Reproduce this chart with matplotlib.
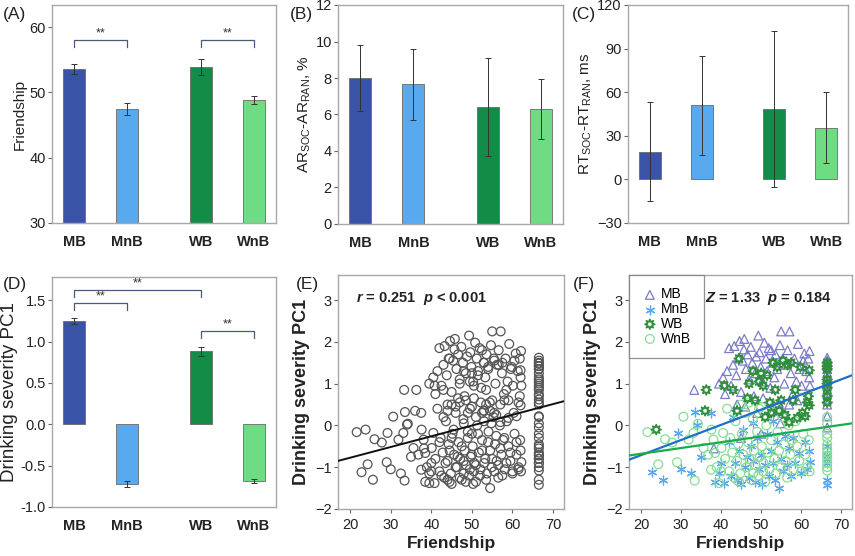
import matplotlib
matplotlib.use('Agg')
import matplotlib.pyplot as plt
import numpy as np

plt.rcParams['font.family'] = ['Liberation Sans', 'DejaVu Sans']
plt.rcParams['mathtext.fontset'] = 'custom'
plt.rcParams['mathtext.rm'] = 'Liberation Sans'
plt.rcParams['mathtext.it'] = 'Liberation Sans:italic:bold'
plt.rcParams['mathtext.bf'] = 'Liberation Sans:bold'

groups = ['MB', 'MnB', 'WB', 'WnB']
bar_colors = ['#3953a6', '#59a9ee', '#138c47', '#6fdc84']

# (A) friendship
friend_mean = [53.6, 47.5, 53.9, 48.9]
friend_err = [0.7, 0.9, 1.3, 0.6]
# (B) accuracy difference
ar_mean = [8.0, 7.65, 6.4, 6.3]
ar_err = [1.8, 1.95, 2.7, 1.65]
# (C) RT difference
rt_mean = [19, 51, 48.5, 35.5]
rt_err = [34, 34, 53.5, 24.5]
# (D) drinking severity
pc1_mean = [1.25, -0.72, 0.88, -0.69]
pc1_err = [0.04, 0.04, 0.05, 0.025]

# significance brackets: (group i, group j, height)
sig_a = [(0, 1, 58.0), (2, 3, 58.0)]
sig_d = [(0, 2, 1.62), (0, 1, 1.46), (2, 3, 1.13)]

mb_x = [33.3, 38.2, 40.5, 41.0, 42.0, 42.5, 43.0, 43.3, 43.8, 44.3, 44.6, 45.0, 45.4, 45.8, 45.7, 46.2, 46.6, 47.0, 47.4, 47.8,
	48.2, 48.5, 48.8, 49.3, 49.6, 49.9, 50.3, 50.5, 50.8, 51.2, 51.5, 51.9, 52.3, 52.5, 52.9, 53.3, 53.6, 54.0, 54.4, 54.7,
	55.0, 55.4, 55.8, 56.2, 56.6, 57.1, 57.4, 57.9, 58.3, 58.8, 59.2, 59.6, 60.1, 60.5, 60.8, 61.3, 61.8, 62.1, 62.0, 62.2,
	39.5, 41.5, 44.0, 46.0, 49.0, 53.0, 55.5, 57.0, 59.0, 54.8, 45.0, 50.0,
	66.5, 66.5, 66.5, 66.5, 66.5, 66.5, 66.5, 66.5, 66.5, 66.5, 66.5, 66.5, 66.5, 66.5, 66.5]
mb_y = [0.85, -0.55, 1.15, 0.75, 1.85, 0.95, 1.45, 1.9, 1.2, 1.6, 2.02, 0.8, 1.55, 2.07, 1.82, 1.35, 1.7, 1.1, 1.88, 1.5,
	0.7, 1.25, 1.65, 2.15, 1.75, 1.4, 1.05, 0.65, 1.98, 1.6, 1.3, 1.85, 0.9, 1.8, 1.5, 1.15, 1.7, 1.35, 0.55, 1.92,
	2.25, 1.6, 1.0, 1.45, 1.8, 2.25, 1.25, 0.75, 1.6, 1.05, 1.95, 1.35, 0.95, 1.55, 1.72, 1.3, 1.6, 1.78, 1.15, 0.95,
	1.0, 1.3, 0.5, 0.45, 0.3, 0.35, 0.3, 0.5, 0.6, 0.05, -0.3, -0.2,
	1.62, 1.55, 1.48, 1.42, 1.35, 1.25, 1.15, 1.05, 0.95, 0.85, 0.75, 0.62, 0.5, 0.22, -0.05]

mnb_x = [22.8, 25.6, 29.2, 30.0, 32.5, 33.5, 34.0, 35.0, 37.5, 38.5, 39.5, 40.0, 40.8, 42.0, 42.5, 43.0, 43.5, 44.0, 44.5, 45.0,
	45.5, 46.0, 46.5, 47.0, 47.5, 48.0, 48.5, 49.0, 49.5, 50.0, 50.3, 51.0, 51.5, 52.0, 52.5, 53.0, 53.5, 54.0, 54.5, 55.0,
	55.5, 56.0, 56.5, 57.0, 57.5, 58.0, 58.5, 59.5, 60.0, 61.0, 61.5, 62.0, 62.2, 53.0, 48.0,
	66.5, 66.5, 66.5, 66.5, 66.5, 66.5]
mnb_y = [-1.12, -1.3, -0.18, -1.05, -1.15, 0.32, 0.02, -0.75, 0.3, -1.35, -1.15, -0.9, -1.38, -0.4, -1.2, 0.2, -0.9, -1.3, -0.6, -1.4,
	-0.1, -1.0, -0.75, -1.25, -0.5, -0.85, -1.35, -0.3, -1.05, -0.7, -1.4, -0.95, -0.2, -1.2, -0.6, -0.9, -1.3, -0.4, -1.5, -0.8,
	-1.1, -0.25, -0.95, -0.55, -1.2, -0.3, -0.9, -0.65, -1.15, -0.4, -1.05, -0.6, -0.88, 0.1, 0.05,
	-0.5, -0.7, -0.8, -0.9, -1.3, -1.42]

wb_x = [23.8, 36.3, 36.0, 40.8, 43.0, 44.5, 44.0, 46.6, 47.0, 48.0, 48.5, 49.5, 50.0, 50.5, 51.0, 51.5, 52.2, 52.5, 53.0, 53.5,
	54.0, 54.5, 55.0, 55.5, 56.0, 56.6, 57.0, 57.5, 58.0, 58.5, 59.0, 59.8, 60.3, 61.0, 61.5, 61.8, 62.0, 62.0,
	66.5, 66.5, 66.5, 66.5, 66.5, 66.5, 66.5, 66.5]
wb_y = [-0.1, 0.85, 0.35, 0.95, 0.85, 1.6, 0.35, 0.65, 1.0, 1.3, 0.6, 1.05, 1.25, 0.95, 0.2, 1.2, 0.55, 0.3, 1.5, 0.85,
	1.4, 0.35, 0.6, 1.55, 0.25, 1.45, 0.08, 1.5, 0.6, 0.85, 0.18, 1.4, 0.3, 0.22, 0.55, 0.7, 1.32, 0.48,
	1.5, 1.42, 1.35, 1.1, 1.0, 0.9, 0.7, 0.55]

wnb_x = [21.6, 24.3, 26.0, 27.8, 29.0, 30.6, 31.9, 33.1, 33.4, 34.2, 35.6, 36.8, 37.6, 37.5, 38.1, 38.5, 38.9, 39.5, 40.1, 40.5,
	41.0, 41.5, 42.0, 42.3, 42.8, 43.2, 43.6, 44.0, 44.3, 44.8, 45.2, 45.6, 46.0, 46.3, 46.7, 47.1, 47.5, 47.9, 48.2, 48.6,
	49.0, 49.3, 49.7, 50.0, 50.2, 50.6, 51.0, 51.3, 51.7, 52.1, 52.5, 52.9, 53.3, 53.7, 54.1, 54.5, 54.9, 55.3, 55.7, 56.1,
	56.5, 56.9, 57.3, 57.7, 58.1, 58.6, 59.0, 59.5, 60.0, 60.5, 61.0, 61.5, 61.9, 62.1, 45.0, 47.0, 49.5, 53.5, 40.0, 44.5,
	50.5, 48.0,
	66.5, 66.5, 66.5, 66.5, 66.5, 66.5, 66.5, 66.5, 66.5, 66.5, 66.5, 66.5]
wnb_y = [-0.16, -0.93, -0.33, -0.41, -0.88, 0.21, -0.34, -0.18, -1.32, 0.04, -0.54, -0.7, -0.1, -1.06, -0.34, -0.66, -1.0, -1.38, -0.54, -0.18,
	-0.8, 0.4, -1.1, -0.3, -0.65, -1.25, 0.1, -0.85, -0.45, -1.15, -0.2, -0.7, 0.3, -1.0, -0.4, -0.8, -1.3, 0.15, -0.6, -0.95,
	-0.15, -1.2, -0.75, 0.45, -0.5, -0.9, -1.35, 0.0, -0.65, -1.05, -0.35, 0.35, -0.8, -1.15, -0.15, -0.6, -1.0, 0.2, -0.45, -0.85,
	-1.25, 0.0, -0.7, -0.35, -1.05, 0.1, -0.5, -0.85, -1.1, -0.2, -0.7, -1.0, -0.35, -1.1, 0.5, 0.55, 0.4, 0.5, -1.1, -1.35,
	-1.1, -1.15,
	0.2, 0.05, -0.2, -0.3, -0.45, -0.55, -0.65, -0.72, -0.8, -0.9, -1.0, -1.08]

# fitted lines: (intercept, slope)
fit_all = (-1.286, 0.02567)
fit_binge = (-1.437, 0.03627)
fit_nonbinge = (-0.955, 0.01382)

W, H = 855, 556
GRAY = '#a8a8a8'
TXT = '#222222'


def px_axes(fig, left, top, right, bottom):
	return fig.add_axes([left / W, 1 - bottom / H, (right - left) / W, (bottom - top) / H])


def style(ax):
	for s in ax.spines.values():
		s.set_color(GRAY)
		s.set_linewidth(1.0)
	ax.tick_params(colors='#666666', labelcolor=TXT, labelsize=10.5, length=3, width=0.8)
	ax.tick_params(axis='y', pad=1.5)


def bar_panel(ax, means, errs, ylim, yticks, ylabel, sig=None, ylabel_size=10.5):
	pos = np.array([0, 1, 2.4, 3.4])
	ax.bar(pos, means, 0.42, color=bar_colors, edgecolor='#6a6a6a', linewidth=0.6, zorder=2)
	ax.errorbar(pos, means, yerr=errs, fmt='none', ecolor='#333333', elinewidth=0.7, capsize=2.5, capthick=0.7, zorder=3)
	ax.set_xlim(-0.42, 3.82)
	ax.set_ylim(*ylim)
	ax.set_yticks(yticks)
	ax.set_xticks(pos)
	ax.set_xticklabels(groups, fontsize=10.5, fontweight='bold')
	ax.set_ylabel(ylabel, fontsize=ylabel_size, color=TXT, labelpad=2)
	style(ax)
	ax.tick_params(axis='x', length=0, pad=9)
	if sig:
		span = ylim[1] - ylim[0]
		for i, j, h in sig:
			drop = span * 0.03
			ax.plot([pos[i], pos[i], pos[j], pos[j]], [h - drop, h, h, h - drop], color='#4a5a7a', linewidth=0.9)
			ax.text((pos[i] + pos[j]) / 2, h + span * 0.003, '**', ha='center', va='bottom', fontsize=9, color='#333333')


fig = plt.figure(figsize=(W / 100, H / 100), dpi=100)

ax_a = px_axes(fig, 52, 5, 276, 223)
bar_panel(ax_a, friend_mean, friend_err, (30, 63.4), [30, 40, 50, 60], 'Friendship', sig_a, ylabel_size=11)

ax_b = px_axes(fig, 338, 5, 563, 224)
bar_panel(ax_b, ar_mean, ar_err, (0, 12), [0, 2, 4, 6, 8, 10, 12],
	r'AR$_\mathregular{SOC}$-AR$_\mathregular{RAN}$, %', ylabel_size=11)

ax_c = px_axes(fig, 628, 5, 848, 223)
bar_panel(ax_c, rt_mean, rt_err, (-30, 120), [-30, 0, 30, 60, 90, 120],
	r'RT$_\mathregular{SOC}$-RT$_\mathregular{RAN}$, ms', ylabel_size=11)

ax_d = px_axes(fig, 52, 277, 276, 507)
bar_panel(ax_d, pc1_mean, pc1_err, (-1.0, 1.78), [-1.0, -0.5, 0.0, 0.5, 1.0, 1.5],
	'Drinking severity PC1', sig_d, ylabel_size=13.5)
ax_d.set_yticklabels(['-1.0', '-0.5', '0.0', '0.5', '1.0', '1.5'])

# (E) all participants
all_x = np.concatenate([mb_x, mnb_x, wb_x, wnb_x])
all_y = np.concatenate([mb_y, mnb_y, wb_y, wnb_y])
xs = np.array([17, 72.7])

ax_e = px_axes(fig, 338, 275, 564, 509)
ax_e.scatter(all_x, all_y, s=40, facecolors='none', edgecolors='#555555', linewidths=0.9, zorder=2)
ax_e.plot(xs, fit_all[0] + fit_all[1] * xs, color='#111111', linewidth=1.4, zorder=3)
ax_e.text(0.08, 0.9, r'$\it{r}$ = 0.251  $\it{p}$ < 0.001', transform=ax_e.transAxes, fontsize=10.5,
	fontweight='bold', color=TXT, va='center')

ax_f = px_axes(fig, 629, 275, 852, 509)
ax_f.scatter(mb_x, mb_y, s=40, marker='^', facecolors='none', edgecolors='#7b7bc8', linewidths=0.9, label='MB', zorder=2)
ax_f.scatter(mnb_x, mnb_y, s=40, marker=(6, 2, 0), color='#5aa8ee', linewidths=0.9, label='MnB', zorder=2)
ax_f.scatter(wb_x, wb_y, s=50, marker=(8, 1, 0), facecolors='none', edgecolors='#2d8f3c', linewidths=1.2, label='WB', zorder=3)
ax_f.scatter(wnb_x, wnb_y, s=40, facecolors='none', edgecolors='#86de96', linewidths=0.9, label='WnB', zorder=2)
ax_f.plot(xs, fit_binge[0] + fit_binge[1] * xs, color='#1f6fc4', linewidth=1.6, zorder=4)
ax_f.plot(xs, fit_nonbinge[0] + fit_nonbinge[1] * xs, color='#18ad4a', linewidth=1.6, zorder=4)
ax_f.text(0.34, 0.9, r'$\it{Z}$ = 1.33  $\it{p}$ = 0.184', transform=ax_f.transAxes, fontsize=10.5,
	fontweight='bold', color=TXT, va='center')
leg = ax_f.legend(loc='upper left', fontsize=10, frameon=True, fancybox=False, borderaxespad=0,
	handletextpad=0.2, labelspacing=0.05, borderpad=0.9, handlelength=1.2, markerscale=1.0)
leg.get_frame().set_edgecolor('#777777')
leg.get_frame().set_linewidth(0.9)

for ax in (ax_e, ax_f):
	ax.set_xlim(17, 72.7)
	ax.set_ylim(-2, 3.6)
	ax.set_xticks([20, 30, 40, 50, 60, 70])
	ax.set_yticks([-2, -1, 0, 1, 2, 3])
	ax.set_xlabel('Friendship', fontsize=12.5, fontweight='bold', color=TXT, labelpad=3)
	ax.set_ylabel('Drinking severity PC1', fontsize=13, fontweight='bold', color=TXT, labelpad=4)
	style(ax)

for lbl, x, y in [('(A)', 3, 14), ('(B)', 290, 14), ('(C)', 572, 14), ('(D)', 3, 284), ('(E)', 296, 284), ('(F)', 573, 284)]:
	fig.text(x / W, 1 - y / H, lbl, fontsize=12.5, color=TXT, va='center', ha='left')

fig.savefig('out.png', dpi=100)
